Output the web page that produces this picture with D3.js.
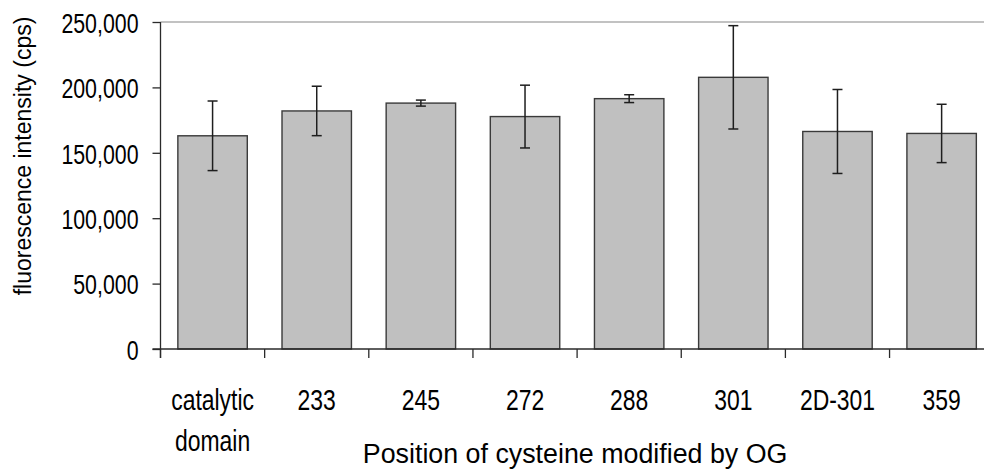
<!DOCTYPE html>
<html>
<head>
<meta charset="utf-8">
<script src="https://cdn.jsdelivr.net/npm/d3@7"></script>
<style>
  html, body { margin: 0; padding: 0; background: #fff; }
  svg { display: block; }
</style>
</head>
<body>
<svg id="chart" width="984" height="469"></svg>
<script>
const categories = ["catalytic domain", "233", "245", "272", "288", "301", "2D-301", "359"];
const values = [163000, 182000, 188000, 177700, 191400, 207700, 166300, 164800];
const errors = [26600, 18900, 2300, 24000, 3000, 39500, 32100, 22300];
const yTicks = [0, 50000, 100000, 150000, 200000, 250000];
const yTitle = "fluorescence intensity (cps)";
const xTitle = "Position of cysteine modified by OG";

(function () {
const svg = d3.select("#chart");
const W = 984, H = 469;
const pLeft = 160.5, pTop = 22, pBottom = 349;
const pRight = pLeft + 8 * 104.15;

const sans = "'Liberation Sans', Arial, sans-serif";
const squeeze = 0.79;

const x = d3.scaleBand().domain(categories).range([pLeft, pRight])
  .paddingInner(1/3).paddingOuter(1/6);
const y = d3.scaleLinear().domain([0, 250000]).range([pBottom, pTop]);

svg.append("line")
  .attr("x1", pLeft).attr("x2", W)
  .attr("y1", y(250000)).attr("y2", y(250000))
  .attr("stroke", "#858585").attr("stroke-width", 1.2);

svg.append("g").selectAll("rect").data(categories).join("rect")
  .attr("x", d => x(d))
  .attr("y", (d, i) => y(values[i]))
  .attr("width", x.bandwidth())
  .attr("height", (d, i) => y(0) - y(values[i]))
  .attr("fill", "#c0c0c0")
  .attr("stroke", "#3a3a3a")
  .attr("stroke-width", 1.4);

const eg = svg.append("g").attr("stroke", "#1e1e1e").attr("stroke-width", 1.5);
categories.forEach((c, i) => {
  const cx = x(c) + x.bandwidth() / 2;
  const hi = y(values[i] + errors[i]), lo = y(values[i] - errors[i]);
  eg.append("line").attr("x1", cx).attr("x2", cx).attr("y1", hi).attr("y2", lo);
  eg.append("line").attr("x1", cx - 5).attr("x2", cx + 5).attr("y1", hi).attr("y2", hi);
  eg.append("line").attr("x1", cx - 5).attr("x2", cx + 5).attr("y1", lo).attr("y2", lo);
});

const yAxis = d3.axisLeft(y).tickValues(yTicks).tickFormat(d3.format(","))
  .tickSize(8).tickPadding(13).tickSizeOuter(0);
const gy = svg.append("g").attr("transform", `translate(${pLeft},0)`).call(yAxis);
gy.select(".domain").attr("stroke", "#2a2a2a").attr("stroke-width", 1.3)
  .attr("d", `M0,${pTop}V${pBottom + 9}`);
gy.selectAll(".tick line").attr("stroke", "#2a2a2a").attr("stroke-width", 1.3);
gy.selectAll(".tick text")
  .attr("font-family", sans).attr("font-size", 27).attr("fill", "#000")
  .attr("x", 0).attr("dy", "0.38em")
  .attr("transform", `translate(-22,0) scale(${squeeze},1)`);

const gx = svg.append("g").attr("transform", `translate(0,${pBottom})`);
gx.append("line").attr("x1", pLeft - 8).attr("x2", W).attr("y1", 0).attr("y2", 0)
  .attr("stroke", "#2a2a2a").attr("stroke-width", 1.3);
const step = x.step();
const boundaries = d3.range(categories.length + 1).map(i => pLeft + i * step);
gx.selectAll("line.tk").data(boundaries).join("line").attr("class", "tk")
  .attr("x1", d => d).attr("x2", d => d).attr("y1", 0).attr("y2", 9)
  .attr("stroke", "#2a2a2a").attr("stroke-width", 1.3);

const xl = svg.append("g").attr("font-family", sans).attr("font-size", 29)
  .attr("text-anchor", "middle").attr("fill", "#000");
categories.forEach(c => {
  const cx = x(c) + x.bandwidth() / 2;
  const words = c === "catalytic domain" ? ["catalytic", "domain"] : [c];
  words.forEach((w, j) => {
    xl.append("text")
      .attr("transform", `translate(${cx},${410 + j * 41}) scale(${squeeze},1)`)
      .text(w);
  });
});

svg.append("text")
  .attr("transform", `translate(31,156) rotate(-90)`)
  .attr("text-anchor", "middle").attr("font-family", sans).attr("font-size", 23)
  .attr("fill", "#000").text(yTitle);
svg.append("text")
  .attr("x", (pLeft + pRight) / 2 - 2).attr("y", 463)
  .attr("text-anchor", "middle").attr("font-family", sans).attr("font-size", 26.8)
  .attr("fill", "#000").text(xTitle);
})();
</script>
</body>
</html>
